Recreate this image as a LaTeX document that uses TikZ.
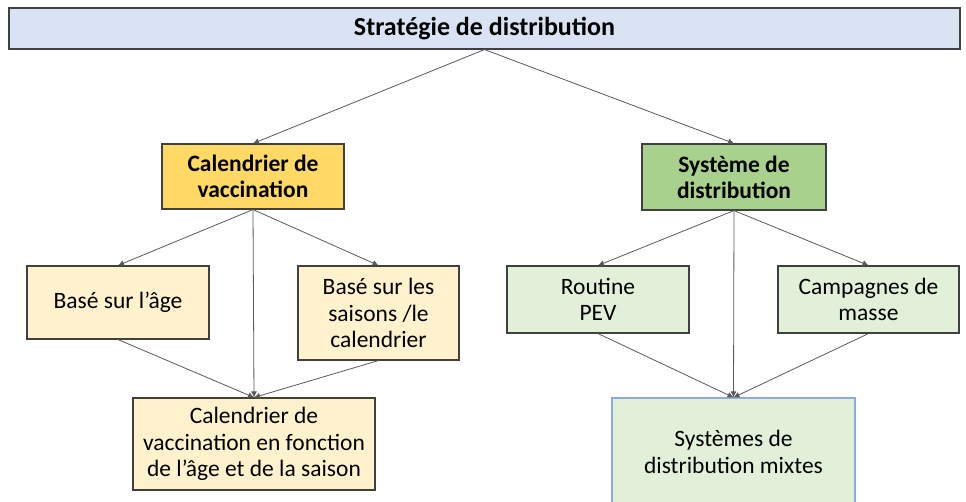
\documentclass[tikz,border=0pt]{standalone}
\usepackage{fontspec}
\setmainfont{Carlito}
\usetikzlibrary{arrows.meta}
\definecolor{topfill}{HTML}{DAE3F3}
\definecolor{yellowdark}{HTML}{FFD966}
\definecolor{yellowlight}{HTML}{FFF2CC}
\definecolor{greendark}{HTML}{A9D18E}
\definecolor{greenlight}{HTML}{E2F0D9}
\definecolor{boxline}{HTML}{404040}
\definecolor{blueline}{HTML}{8FAADC}
\definecolor{linkline}{HTML}{595959}
\tikzset{
  box/.style={draw=boxline, line width=1.1pt, align=center, inner sep=2pt,
    font=\fontsize{23.5}{26.5}\selectfont},
  headbox/.style={box, font=\fontsize{23.5}{26}\selectfont\bfseries},
  link/.style={draw=linkline, line width=0.8pt,
    -{Latex[length=6pt,width=6pt]}}
}
\begin{document}
\begin{tikzpicture}[x=1pt,y=-1pt]
\useasboundingbox (0,0) rectangle (966,501);
% title bar
\node[box, fill=topfill, minimum width=951pt, minimum height=41pt,
  font=\fontsize{26}{28}\selectfont\bfseries] (top) at (484.5,28.5) {Stratégie de distribution};
% second level
\node[headbox, fill=yellowdark, minimum width=182pt, minimum height=65pt] (cal) at (253,176.5) {Calendrier de\\vaccination};
\node[headbox, fill=greendark, minimum width=184pt, minimum height=66pt] (sys) at (734,177) {Système de\\distribution};
% third level
\node[box, fill=yellowlight, minimum width=182pt, minimum height=73pt] (age) at (118,302.5) {Basé sur l’âge};
\node[box, fill=yellowlight, minimum width=161pt, minimum height=94pt] (sais) at (378.5,313) {Basé sur les\\saisons /le\\calendrier};
\node[box, fill=greenlight, minimum width=182pt, minimum height=67pt] (rout) at (598,299.5) {Routine\\PEV};
\node[box, fill=greenlight, minimum width=181pt, minimum height=67pt] (camp) at (868.5,299.5) {Campagnes de\\masse};
% bottom level
\node[box, fill=yellowlight, minimum width=242pt, minimum height=92pt] (calfin) at (254,444) {Calendrier de\\vaccination en fonction\\de l’âge et de la saison};
\node[box, draw=blueline, fill=greenlight, minimum width=243pt, minimum height=108pt] (mix) at (733.5,452) {Systèmes de\\distribution mixtes};
% connectors
\draw[link] (top.south) -- (cal.north);
\draw[link] (top.south) -- (sys.north);
\draw[link] (cal.south) -- (age.north);
\draw[link] (cal.south) -- (sais.north);
\draw[link] (cal.south) -- (calfin.north);
\draw[link] (age.south) -- (calfin.north);
\draw[link] (sais.south) -- (calfin.north);
\draw[link] (sys.south) -- (rout.north);
\draw[link] (sys.south) -- (camp.north);
\draw[link] (sys.south) -- (mix.north);
\draw[link] (rout.south) -- (mix.north);
\draw[link] (camp.south) -- (mix.north);
\end{tikzpicture}
\end{document}
